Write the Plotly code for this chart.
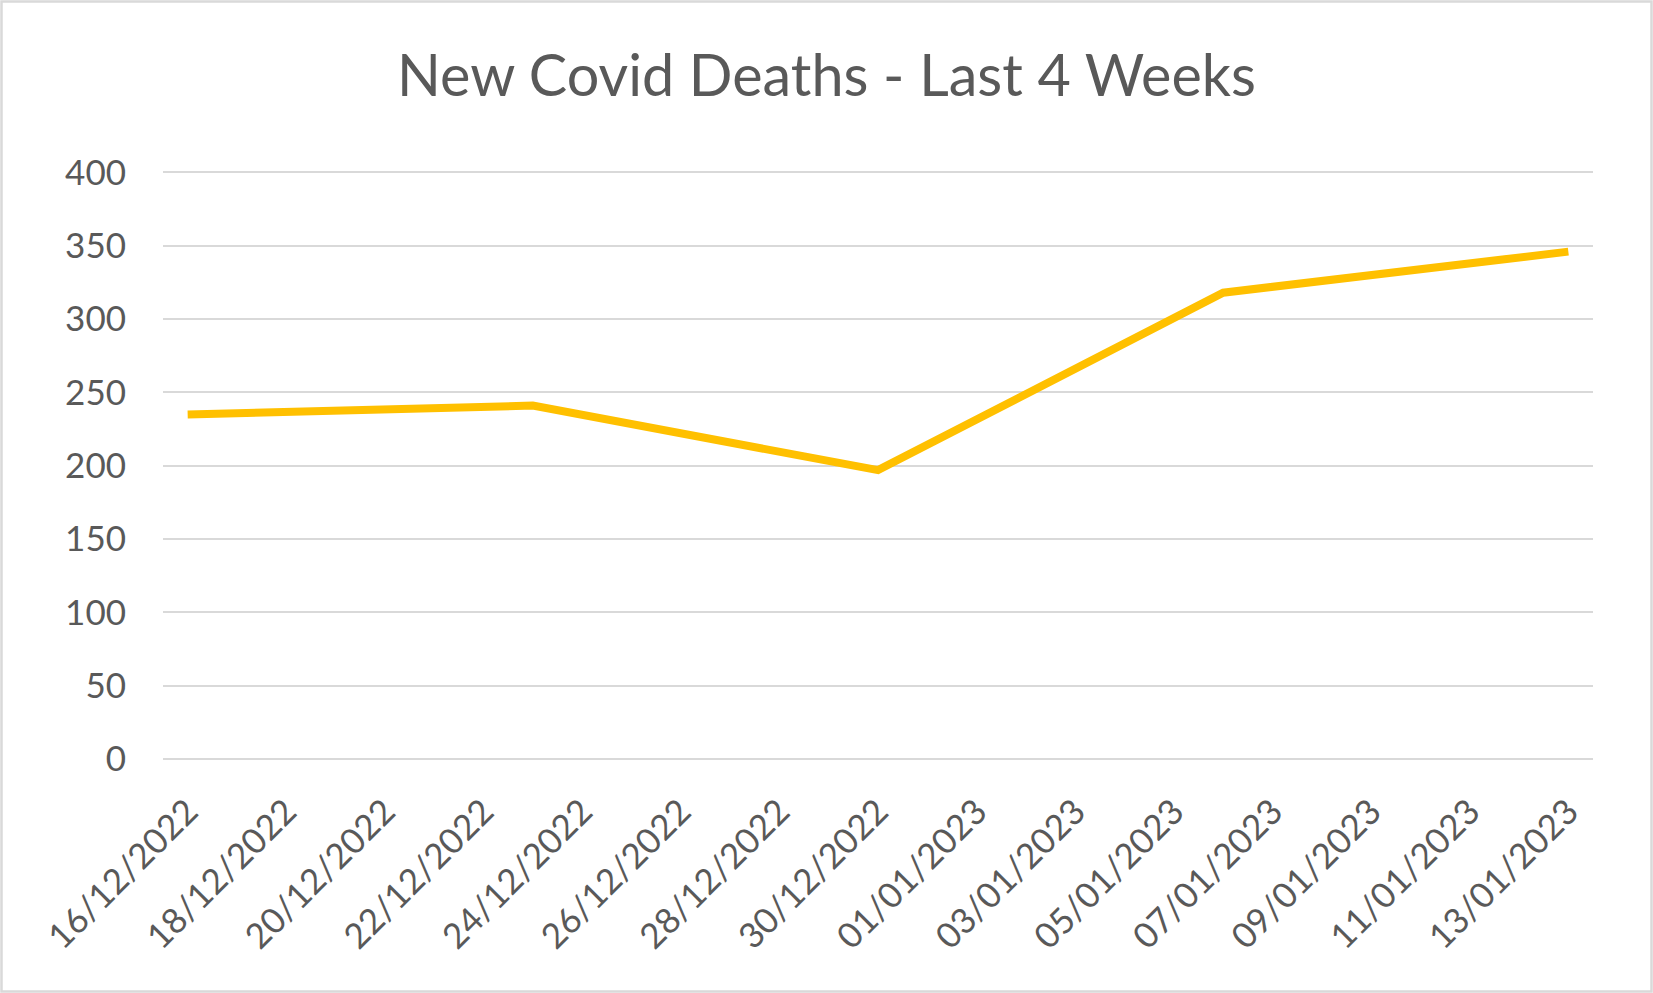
import plotly.graph_objects as go

# Data
dates = ["2022-12-16", "2022-12-23", "2022-12-30", "2023-01-06", "2023-01-13"]
deaths = [235, 241, 197, 318, 346]
y_ticks = [0, 50, 100, 150, 200, 250, 300, 350, 400]
title_text = "New Covid Deaths - Last 4 Weeks"

W, H = 1653, 993
ML, MR, MT, MB = 163, 60, 171, 234
PW, PH = W - ML - MR, H - MT - MB

TEXT = "#595959"
GRID = "#d9d9d9"
FONT = "Lato"

fig = go.Figure()
fig.add_trace(go.Scatter(
    x=dates, y=deaths, mode="lines",
    line=dict(color="#ffc000", width=8),
    showlegend=False, hoverinfo="x+y",
))

fig.update_layout(
    width=W, height=H,
    margin=dict(l=ML, r=MR, t=MT, b=MB, autoexpand=False),
    paper_bgcolor="white", plot_bgcolor="white",
    font=dict(family=FONT, color=TEXT),
    title=dict(text=title_text, x=0.5, xanchor="center", y=1 - 76 / H, yanchor="middle",
               font=dict(family=FONT, size=57.5, color=TEXT)),
    xaxis=dict(
        type="date",
        range=["2022-12-15 12:00", "2023-01-13 12:00"],
        tick0="2022-12-16", dtick=2 * 86400000,
        tickformat="%d/%m/%Y", tickangle=-45,
        tickfont=dict(family=FONT, size=35, color=TEXT),
        showgrid=False, zeroline=False, showline=False,
        ticks="", ticklabelstandoff=24,
    ),
    yaxis=dict(
        range=[0, 401], tickvals=y_ticks,
        tickfont=dict(family=FONT, size=35, color=TEXT),
        showgrid=True, gridcolor=GRID, gridwidth=2,
        zeroline=True, zerolinecolor=GRID, zerolinewidth=2,
        showline=False, ticks="", ticklabelstandoff=36,
    ),
    shapes=[dict(
        type="rect", xref="paper", yref="paper",
        x0=(-ML + 1.5) / PW, x1=1 + (MR - 1.5) / PW,
        y0=(-MB + 1.5) / PH, y1=1 + (MT - 1.5) / PH,
        line=dict(color=GRID, width=2.5), fillcolor="rgba(0,0,0,0)", layer="below",
    )],
)

fig.write_html(
    "out.html",
    config={"displayModeBar": False},
    post_script="document.body.style.margin='0';document.body.style.overflow='hidden';",
)
